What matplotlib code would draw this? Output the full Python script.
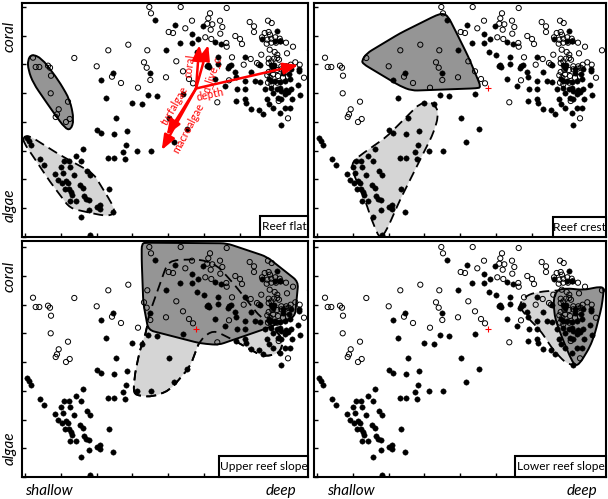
import numpy as np
import matplotlib
matplotlib.use("Agg")
import matplotlib.pyplot as plt
from matplotlib.path import Path
from matplotlib.patches import PathPatch, Rectangle
from matplotlib import font_manager as fm

# ---------------- data (ordination scores, in panel units) ----------------
filled_pts = [
    (133.3,216.7),(143.7,186.7),(127.7,163.7),(91.3,163.7),(78.7,156.7),(83.7,139.3),
    (126.3,141.7),(135.3,141.3),(110,134.3),(120,132.7),(94,119),(147.3,119.3),
    (4.7,99),(6.7,95.7),(9,92.3),(75.3,107.3),(79.3,103.7),(92.3,102.7),(105,105.7),
    (104,92.3),(101,85),(115.3,86),(129.3,86),(85.7,78.7),(92.3,78.7),(102.7,78.3),
    (60.7,88.3),(17.7,78.3),(22.3,72),(42.3,75.7),(47.3,76),(53.7,80.7),(59.3,75.7),
    (38.7,70.3),(48.3,70.3),(33.3,63),(40.7,64),(52,62.3),(65,65.7),(68,61.7),(35.7,57),
    (40.3,54),(43.7,55.7),(45.7,54),(43.3,47.7),(47.3,48.3),(49,45),(50,41.7),(48,36.3),
    (53.7,36.3),(58.3,52.3),(60.7,48.7),(61.7,41.3),(64.3,38),(67,36.7),(67.3,26.7),
    (59.3,19.7),(75,30),(77.7,31.7),(77.7,27.7),(87.3,47.7),(91,25.3),(68,2),
    (165,108.3),(152.3,95),
    (153.3,211.7),(181.3,211.3),(170,202.7),(176,198.3),(193.3,195),(158,194),(170,194),
    (199.3,193.3),(175.3,185),(182,181.7),(196.3,180),(186,172.3),(185,170.7),(187.3,170),
    (196.3,173),(207,170.7),(209,172),(206,169.3),(213.3,165),(213.7,160),(192.7,158.3),
    (202.7,150.7),(215,148),(214,136.3),(161,143.3),
    (255.3,205.7),(240.3,198),(253.3,196.3),(257.7,196.3),(222.7,180.3),(238.3,172.3),
    (249.3,172.3),(252,172.3),(251,169),(261,168.3),(269.3,168),(276.7,168),(229.3,165.3),
    (261,164.3),(266.7,162.7),(276.7,166),(247,157.7),(249.3,156),(252.7,156),(257.7,155),
    (262.7,156),(267.7,157.7),(223.3,156),(232.7,156),(237.7,155),(249.3,149.3),
    (255.3,147.7),(259.3,146),(264.3,147),(268.7,148.3),(276,151.7),(222.7,147.7),
    (242.7,147.7),(257.7,149.3),(251,144.3),(262.7,142.7),(266,145),(277.7,141.7),
    (223.3,138.3),(224.3,133.7),(245.3,138.3),(256,139.3),(259.3,137.7),(270,137.7),
    (228.7,128.3),(236.7,126.7),(241,122.7),(246.7,132.7),(251,129.3),(257.7,124.3),
    (262.7,129.3),(268.3,128.7),(259.3,112),
]
open_pts = [
    (127.3,230),(129,223.7),(146.7,205),(106.3,192.3),(86.3,186.7),(125.3,186.7),(11,179.3),
    (52.3,179),(13.7,170),(17.3,170),(26,171.3),(28,169.3),(74.7,170.7),(122,174.7),
    (124.7,169.3),(128.3,157),(144,159.7),(90,160.3),(99,154),(29,161.3),(116,149.3),
    (28.7,143.7),(46,135.3),(36.7,127.7),(35,122.7),(33.7,120),(47.7,118),(44,115),
    (158.7,230),(204.7,229),(188,223.7),(186.3,218.7),(198,216.3),(170,216.3),(185.3,213.3),
    (190.3,212.7),(200.3,210),(163.3,208.7),(188.7,207.3),(198.3,203.3),(183.3,199.7),
    (189.3,198),(213.3,201),(204.3,194),(204.7,190.3),(210,179.7),(207,156.7),(195.3,134.7),
    (171,153.7),(154.3,175.7),(161,165.7),(167,158),(151,204),
    (227.7,215),(232,210.7),(232,205),(246,216.3),(249.7,214),(242.7,204),(246.7,205),
    (248,202.3),(240,199.7),(245.3,197.3),(249.3,198.3),(253.3,199.7),(257.7,198.3),
    (244.7,193.3),(249.3,194.3),(254,194.3),(258.7,195.7),(264,194.3),(271,190.3),(218,198),
    (220,193),(247.7,187.3),(239.3,182.3),(252.7,185),(255.3,182.3),(265,183.7),(288,186.7),
    (228.7,178),(235,174),(237,172.3),(246.7,178.3),(249.3,175.7),(252,178.3),(255.3,179),
    (257,177.3),(246.7,174),(259.3,170.7),(264.3,170.7),(268.7,172.3),(273.3,174.7),
    (277.7,172.3),(221.7,172.3),(246.7,165),(250.3,167),(255,167),(259.3,167.7),(263.7,168.3),
    (266.7,169.3),(245.3,161.7),(248.3,159.3),(251,162.7),(256,161),(261,159.3),(266,160.3),
    (282,159.3),(246,154.3),(249.3,152.7),(255.3,154.3),(256.7,136),(266,118.7),
]
centroid = (174.0, 148.5)

# biplot vectors (tip positions) for the reef-flat panel
vector_names = ["coral", "d_live_c", "depth", "turfalgae", "macroalgae"]
vector_tips = [(177.3,192),(186.3,192),(276.3,172),(144.7,102),(139.7,87)]
vector_label_pos = [(167.5,171),(190,163),(188,142.5),(152.5,131),(166.5,109)]
vector_label_rot = [82, 71, 12, 60, 62]

# hull outlines (dark = solid group, light = dashed group)
hull_dark = {
    "Reef flat": [(5.7,177),(9.7,183),(19.7,178.7),(36.3,157),(48,137),(52,117),(48.7,107),
                  (43,108.7),(29.7,127),(11.3,153.7),(6.3,167)],
    "Reef crest": [(47.7,176.3),(52.7,183.7),(86,203.7),(122.7,222),(129.3,223.7),(134.3,220.3),
                   (142.7,203.7),(154.3,180.3),(162.7,160.3),(167,149.7),(162.7,148.7),
                   (97.7,146.3),(86,151),(59.3,167),(49.3,173)],
    "Upper reef slope": [(119.7,233.7),(124.7,234.3),(204.7,233.7),(244.7,220.3),(276.3,195.3),
                         (273,160.3),(244.7,148.7),(196.3,132),(178,133.7),(126.3,147),
                         (121.3,173.7),(119.7,217)],
    "Lower reef slope": [(242.7,187),(252.7,188.7),(269.3,187),(286,190.3),(290,188.7),
                         (287.7,170.3),(281,143.7),(276,130.3),(266,113.7),(261,111),
                         (256,120.3),(247.7,140.3),(241,158.7),(239.3,177)],
}
hull_light = {
    "Reef flat": [(1,100),(7,101.5),(38,82),(71.3,63.7),(89.7,33.7),(93,25.3),(88,21),(78,22),
                  (48,28.7),(28,55.3),(11.3,80.3),(2,94)],
    "Reef crest": [(66,-2.3),(57.7,17),(51,37),(39.3,63.7),(37.7,73.7),(44.3,80.3),(72.7,100.3),
                   (86,113.7),(106,133.7),(116,135.3),(122.7,130.3),(124.3,120.3),(119.3,103.7),
                   (106,77),(86,37),(72.7,7)],
    "Upper reef slope": [(111.3,83.7),(113,103.7),(118,127),(124.7,147),(126.3,160.3),(144.7,212),
                         (151.3,217),(178,217.7),(194.7,212),(211.3,193.7),(238,160.3),(248,153.7),
                         (261.3,137),(258,123.7),(241.3,120.3),(211.3,137),(191.3,147),(178,137),
                         (168,110.3),(148,87),(131.3,80.3),(118,81)],
    "Lower reef slope": [(204.3,172),(212.7,182),(226,185.3),(239.3,186.3),(252.7,187),(270,170),
                         (275,140),(262.7,112),(252.7,113),(239.3,127),(226,147),(212.7,160.3)],
}
panel_names = ["Reef flat", "Reef crest", "Upper reef slope", "Lower reef slope"]

# ---------------- style ----------------
def pick_font():
    for f in ["Liberation Sans Narrow", "Lato"]:
        try:
            fm.findfont(f, fallback_to_default=False)
            return f
        except Exception:
            pass
    return "DejaVu Sans"
FONT = pick_font()
NARROW = FONT == "Liberation Sans Narrow"
plt.rcParams["font.family"] = [FONT, "DejaVu Sans"]
BOX_FS = 10 if NARROW else 8.6
AX_FS = 12 if NARROW else 11
VEC_FS = 8.5 if NARROW else 7.8

W, H = 608, 499
fig = plt.figure(figsize=(W/100, H/100), dpi=100)

# panel rectangles in figure pixels (x1, y1, x2, y2), y from top
rects = [(22,3,308,237),(314,3,606,237),(22,241,308,477),(314,241,606,477)]
box_w = [48, 53.3, 88.7, 91]
box_h = [20.5, 19.5, 21, 21]

DARK = "#959595"
LIGHT = "#d5d5d5"

def rounded_path(verts, r=6.0):
    v = np.asarray(verts, float)
    n = len(v)
    pts, codes = [], []
    for i in range(n):
        p = v[i]; a = v[i-1]; b = v[(i+1) % n]
        da, db = a - p, b - p
        la, lb = np.hypot(*da), np.hypot(*db)
        ra, rb = min(r, 0.5*la), min(r, 0.5*lb)
        pin = p + da/la*ra
        pout = p + db/lb*rb
        pts.append(pin); codes.append(Path.MOVETO if i == 0 else Path.LINETO)
        pts += [p, pout]; codes += [Path.CURVE3, Path.CURVE3]
    pts.append(pts[0]); codes.append(Path.LINETO)
    pts.append(pts[0]); codes.append(Path.CLOSEPOLY)
    return Path(pts, codes)

fx, fy = np.array(filled_pts).T
ox, oy = np.array(open_pts).T

for k, (name, (x1, y1, x2, y2)) in enumerate(zip(panel_names, rects)):
    ax = fig.add_axes([x1/W, 1 - y2/H, (x2-x1)/W, (y2-y1)/H])
    ax.set_xlim(0, x2 - x1)
    ax.set_ylim(0, y2 - y1)
    ax.set_xticks([3 + 35.75*i for i in range(9) if 3 + 35.75*i < x2 - x1])
    ax.set_yticks([28.75*i for i in range(9)])
    ax.tick_params(direction="in", length=3, width=1, labelleft=False, labelbottom=False,
                   colors="black")
    for s in ax.spines.values():
        s.set_linewidth(1.5)

    # hulls
    lp = rounded_path(hull_light[name], 7)
    ax.add_patch(PathPatch(lp, facecolor=LIGHT, edgecolor="none", zorder=1))
    ax.add_patch(PathPatch(lp, facecolor="none", edgecolor="black", lw=1.3,
                           linestyle=(0, (5.5, 3)), zorder=1.5))
    dp = rounded_path(hull_dark[name], 6 if k != 0 else 9)
    ax.add_patch(PathPatch(dp, facecolor=DARK, edgecolor="black", lw=1.4, zorder=2))
    if name == "Upper reef slope":
        ax.add_patch(PathPatch(lp, facecolor="none", edgecolor="black", lw=1.3,
                               linestyle=(0, (5.5, 3)), zorder=2.5))

    # points
    ax.scatter(ox, oy, s=14, facecolors="none", edgecolors="black", linewidths=0.7, zorder=3)
    ax.scatter(fx, fy, s=15, facecolors="black", edgecolors="black", linewidths=0.3, zorder=3)

    if k == 0:
        for nm, tip, lpos, rot in zip(vector_names, vector_tips, vector_label_pos, vector_label_rot):
            ax.annotate("", xy=tip, xytext=centroid,
                        arrowprops=dict(arrowstyle="-|>,head_length=0.9,head_width=0.35",
                                        color="red", lw=1.8, shrinkA=0, shrinkB=0), zorder=4)
            ax.text(lpos[0], lpos[1], nm, color="red", fontsize=VEC_FS, rotation=rot,
                    ha="center", va="center", rotation_mode="anchor", zorder=5)
    else:
        ax.plot([centroid[0]], [centroid[1]], marker="+", color="red", ms=4, mew=0.8, zorder=4)

    # label box
    bw = box_w[k] / (x2 - x1)
    bh = box_h[k] / (y2 - y1)
    ax.add_patch(Rectangle((1 - bw, 0), bw, bh, transform=ax.transAxes, facecolor="white",
                           edgecolor="black", lw=1.5, zorder=6, clip_on=False))
    ax.text(1 - bw/2, bh/2, name, transform=ax.transAxes, ha="center", va="center",
            fontsize=BOX_FS, zorder=7)

def ftext(x, y, s, **kw):
    fig.text(x/W, 1 - y/H, s, style="italic", fontsize=AX_FS, **kw)

ftext(10, 36, "coral", rotation=90, ha="center", va="center")
ftext(10, 205, "algae", rotation=90, ha="center", va="center")
ftext(10, 276, "coral", rotation=90, ha="center", va="center")
ftext(10, 448, "algae", rotation=90, ha="center", va="center")
ftext(49, 495, "shallow", ha="center", va="baseline")
ftext(281, 495, "deep", ha="center", va="baseline")
ftext(351, 495, "shallow", ha="center", va="baseline")
ftext(582, 495, "deep", ha="center", va="baseline")

fig.savefig("out.png", dpi=100)
